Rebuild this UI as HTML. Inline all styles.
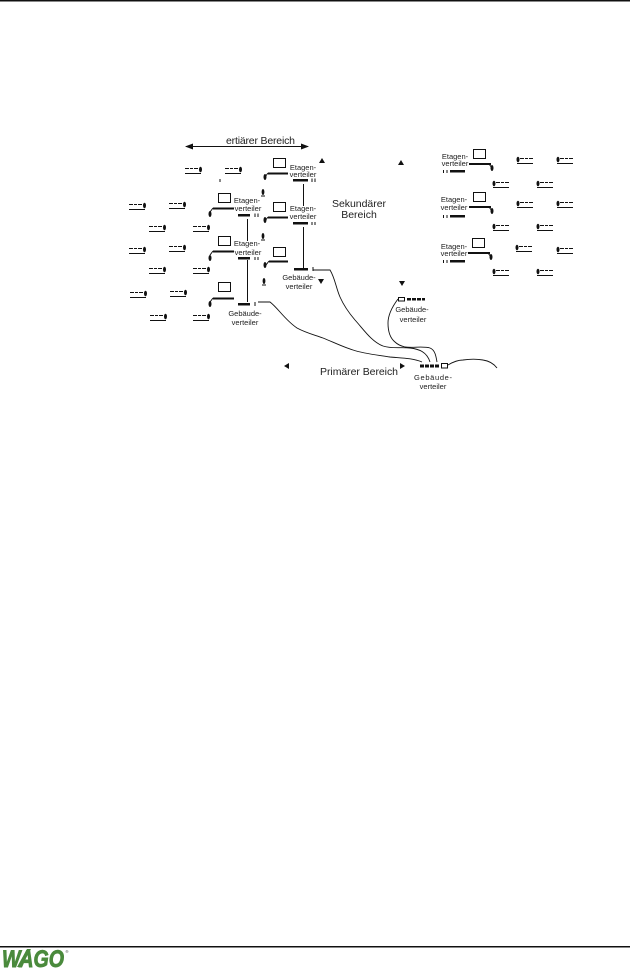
<!DOCTYPE html>
<html><head><meta charset="utf-8"><style>
html,body{margin:0;padding:0;background:#fff;width:630px;height:971px;overflow:hidden}
svg{display:block}
text{font-family:"Liberation Sans",sans-serif;fill:#222;text-anchor:middle}
.s{font-size:7.5px;font-weight:normal}
.b{font-size:10.5px}
</style></head><body>
<svg width="630" height="971" viewBox="0 0 630 971" xmlns="http://www.w3.org/2000/svg">
<defs>
<g id="a"><path d="M0 0.5H4M5 0.5H8M9 0.5H13" stroke="#111" fill="none"/><path d="M0 5.5H16" stroke="#111" fill="none"/><ellipse cx="15.5" cy="1.5" rx="1.5" ry="2.8" fill="#111"/></g>
<g id="r"><path d="M3 0.5H7M8 0.5H11M12 0.5H16" stroke="#111" fill="none"/><path d="M0 5.5H16" stroke="#111" fill="none"/><ellipse cx="1" cy="1.5" rx="1.5" ry="2.8" fill="#111"/></g>
<marker id="m" viewBox="0 0 8 6" refX="7" refY="3" markerWidth="8" markerHeight="6" orient="auto-start-reverse"><path d="M0 0L8 3L0 6z" fill="#111"/></marker>
</defs>
<rect x="0" y="0" width="630" height="1.5" fill="#111"/>
<rect x="0" y="946" width="630" height="1.5" fill="#111"/>

<!-- left phones -->
<use href="#a" x="185" y="168"/><use href="#a" x="225" y="168"/>
<use href="#a" x="129" y="204"/><use href="#a" x="169" y="203"/>
<use href="#a" x="149" y="226"/><use href="#a" x="193" y="226"/>
<use href="#a" x="129" y="248"/><use href="#a" x="169" y="246"/>
<use href="#a" x="149" y="268"/><use href="#a" x="193" y="268"/>
<use href="#a" x="130" y="292"/><use href="#a" x="170" y="291"/>
<use href="#a" x="150" y="315"/><use href="#a" x="193" y="315"/>
<!-- right phones -->
<use href="#r" x="517" y="158"/><use href="#r" x="557" y="158"/>
<use href="#r" x="493" y="182"/><use href="#r" x="537" y="182"/>
<use href="#r" x="517" y="202"/><use href="#r" x="557" y="202"/>
<use href="#r" x="493" y="225"/><use href="#r" x="537" y="225"/>
<use href="#r" x="516" y="246"/><use href="#r" x="557" y="248"/>
<use href="#r" x="493" y="270"/><use href="#r" x="537" y="270"/>

<!-- small dots between -->
<ellipse cx="263" cy="192" rx="1.4" ry="3" fill="#111"/><path d="M261 196H265" stroke="#111"/>
<ellipse cx="263" cy="236" rx="1.4" ry="3" fill="#111"/><path d="M261 240H265" stroke="#111"/>
<ellipse cx="264" cy="281" rx="1.4" ry="3" fill="#111"/><path d="M262 285H266" stroke="#111"/>
<path d="M220 179V182" stroke="#111"/>

<!-- computers -->
<g fill="none" stroke="#111" stroke-width="1">
<rect x="218.500" y="193.500" width="12" height="9"/>
<rect x="218.500" y="236.500" width="12" height="9"/>
<rect x="218.500" y="282.500" width="12" height="9"/>
<rect x="273.500" y="158.500" width="12" height="9"/>
<rect x="273.500" y="202.500" width="12" height="9"/>
<rect x="273.500" y="247.500" width="12" height="9"/>
<rect x="473.500" y="149.500" width="12" height="9"/>
<rect x="473.500" y="192.500" width="12" height="9"/>
<rect x="472.500" y="238.500" width="12" height="9"/>
<path d="M247.500 219V241M247.500 260V302M303.500 184V206M303.500 227V268"/>
</g>
<!-- thick computer lines -->
<g fill="none" stroke="#111" stroke-width="2">
<path d="M213 208.500H234M213 251.500H234M213 298.500H234M268 173.500H288M268 217.500H288M269 261.500H288"/>
<path d="M469 164H491M469 207H491M468 253H490"/>
</g>
<g fill="none" stroke="#111" stroke-width="1">
<path d="M213 208L210 212M213 251L210 255M213 298L210 302M268 173L265 177M268 217L265 221M269 261L266 265M489 164L492 168M489 207L492 211M488 253L491 257"/>
</g>
<g fill="#111">
<ellipse cx="210" cy="214" rx="1.5" ry="3"/><ellipse cx="210" cy="258" rx="1.5" ry="3"/><ellipse cx="210" cy="304" rx="1.5" ry="3"/>
<ellipse cx="265" cy="177" rx="1.5" ry="3"/><ellipse cx="265" cy="220" rx="1.5" ry="3"/><ellipse cx="265" cy="265" rx="1.500" ry="3"/>
<ellipse cx="492" cy="168" rx="1.5" ry="3"/><ellipse cx="492" cy="211" rx="1.5" ry="3"/><ellipse cx="491" cy="257" rx="1.5" ry="3"/>
</g>

<!-- patch panels -->
<g fill="#111">
<rect x="238" y="214" width="12" height="2.500"/><path d="M255 213.500v3.500M258 213.500v3.500" stroke="#111" fill="none"/>
<rect x="238" y="257" width="12" height="2.500"/><path d="M255 257v3M258 257v3" stroke="#111" fill="none"/>
<rect x="293" y="179" width="15" height="2.500"/><path d="M312 178.500v3.500M315 178.500v3.500" stroke="#111" fill="none"/>
<rect x="293" y="222" width="15" height="2.500"/><path d="M312 222v3M315 222v3" stroke="#111" fill="none"/>
<rect x="450" y="170" width="15" height="2.500"/><rect x="450" y="215" width="15" height="2.500"/><rect x="450" y="260" width="15" height="2.500"/>
<path d="M443.500 170v3M447 170v3M443.500 215v3M447 215v3M443.500 260v3M447 260v3" stroke="#111" fill="none"/>
<rect x="238" y="303" width="12" height="2.500"/><path d="M255 302v4" stroke="#111" fill="none"/>
<rect x="294" y="268" width="14" height="2.500"/><path d="M313 267v4" stroke="#111" fill="none"/>
<rect x="407" y="298" width="4" height="2.500"/><rect x="412" y="298" width="4" height="2.500"/><rect x="417" y="298" width="4" height="2.500"/><rect x="422" y="298" width="3" height="2.500"/>
<rect x="420" y="364.500" width="4" height="3"/><rect x="425" y="364.500" width="4" height="3"/><rect x="430" y="364.500" width="4" height="3"/><rect x="435" y="364.500" width="4" height="3"/>
</g>
<rect x="398.500" y="297.500" width="6" height="3.500" fill="none" stroke="#111"/>
<rect x="441.500" y="363.500" width="6" height="4.500" fill="none" stroke="#111"/>

<!-- cables -->
<g fill="none" stroke="#111" stroke-width="0.9">
<path d="M258 302H270C278 308 285 320 297 328C306 333 315 335 323 338C333 342 343 347 353 350C365 354 378 355 390 357C401 358 413 358 422 362"/>
<path d="M313 270H330C335 278 336 288 340 297C344 306 349 313 355 320C364 330 372 342 383 346C392 349 401 347 410 348C419 349 427 352 430 362"/>
<path d="M398 299C392 307 388 315 388 323C388 331 390 338 395 342C398 345 401 346 405 347C413 348 424 346 430 348C435 350 436 356 437 362"/>
<path d="M448 365C453 362 458 360 463 360C470 359 477 359 483 360C490 361 494 364 497 368"/>
</g>

<!-- arrows -->
<path d="M186 146.500H308" fill="none" stroke="#111" marker-start="url(#m)" marker-end="url(#m)"/>
<g fill="#111">
<path d="M322 158l3 5h-6z"/><path d="M321 284l-3-5h6z"/>
<path d="M401 160l3 5h-6z"/><path d="M402 286l-3-5h6z"/>
<path d="M284 366l5-3v6z"/><path d="M405 366l-5-3v6z"/>
</g>

<!-- labels -->
<text class="b" x="260.500" y="144" textLength="69">ertiärer Bereich</text>
<text class="b" x="359" y="207" textLength="54">Sekundärer</text>
<text class="b" x="359" y="218">Bereich</text>
<text class="b" x="359" y="375" textLength="78">Primärer Bereich</text>

<text class="s" x="247" y="203">Etagen-</text><text class="s" x="248" y="211">verteiler</text>
<text class="s" x="247" y="246">Etagen-</text><text class="s" x="248" y="255">verteiler</text>
<text class="s" x="303" y="170">Etagen-</text><text class="s" x="303" y="177">verteiler</text>
<text class="s" x="303" y="211">Etagen-</text><text class="s" x="303" y="219">verteiler</text>
<text class="s" x="245" y="316">Gebäude-</text><text class="s" x="245" y="325">verteiler</text>
<text class="s" x="299" y="280">Gebäude-</text><text class="s" x="299" y="289">verteiler</text>
<text class="s" x="455" y="159">Etagen-</text><text class="s" x="455" y="166">verteiler</text>
<text class="s" x="454" y="202">Etagen-</text><text class="s" x="454" y="210">verteiler</text>
<text class="s" x="454" y="249">Etagen-</text><text class="s" x="454" y="256">verteiler</text>
<text class="s" x="412" y="312">Gebäude-</text><text class="s" x="413" y="322">verteiler</text>
<text class="s" x="433" y="380" textLength="38">Gebäude-</text><text class="s" x="433" y="389">verteiler</text>

<!-- logo -->
<text x="33" y="967" style="font-size:24px;font-weight:bold;font-style:italic;fill:#4a8a3c;stroke:#4a8a3c;stroke-width:0.9;text-anchor:middle" textLength="62" lengthAdjust="spacingAndGlyphs">WAGO</text>
<path d="M21 967L31 949H27L17 967z" fill="#4a8a3c"/>
<text x="67" y="953" style="font-size:4px;fill:#333">®</text>
</svg>
</body></html>
